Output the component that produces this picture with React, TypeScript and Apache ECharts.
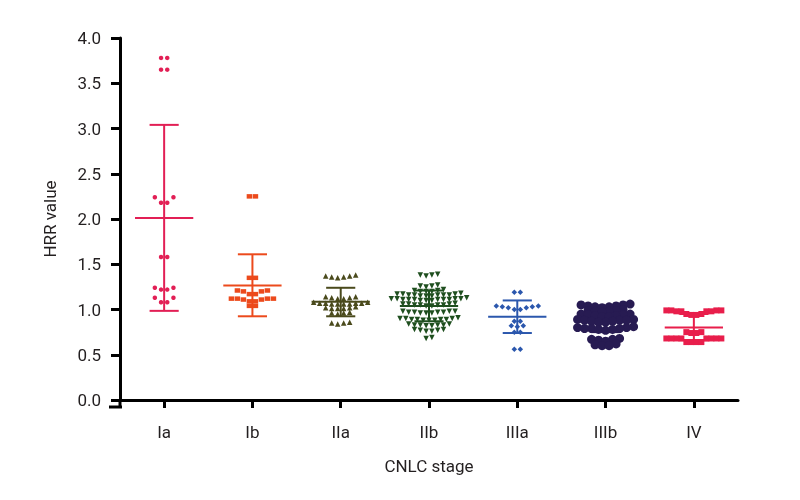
import React, { useEffect, useRef } from "react";
import * as echarts from "echarts";

const categories = ["Ia", "Ib", "IIa", "IIb", "IIIa", "IIIb", "IV"];

const valuesIa = [3.78, 3.78, 3.65, 3.65, 2.24, 2.24, 2.18, 2.18, 1.58, 1.58, 1.24, 1.24, 1.22, 1.22, 1.13, 1.13, 1.08, 1.08];
const valuesIb = [2.25, 2.25, 1.35, 1.35, 1.21, 1.21, 1.2, 1.2, 1.17, 1.17, 1.12, 1.12, 1.12, 1.12, 1.11, 1.11, 1.09, 1.09, 1.04, 1.04];
const valuesIIa = [1.38, 1.37, 1.37, 1.36, 1.36, 1.35, 1.14, 1.14, 1.13, 1.13, 1.12, 1.12, 1.08, 1.08, 1.07, 1.07, 1.07, 1.07, 1.06, 1.06, 1.06, 1.06, 1.03, 1.02, 1.02, 1.01, 1.01, 1.01, 0.97, 0.96, 0.96, 0.95, 0.86, 0.85, 0.85, 0.84];
const valuesIIb = [
  1.39, 1.38, 1.38, 1.37,
  1.27, 1.26, 1.26, 1.25,
  1.22, 1.21, 1.21, 1.2, 1.2, 1.2,
  1.18, 1.17, 1.17, 1.17, 1.16, 1.16, 1.16, 1.16, 1.16, 1.15, 1.15, 1.15,
  1.13, 1.12, 1.12, 1.12, 1.12, 1.11, 1.11, 1.11, 1.11, 1.11, 1.11, 1.1, 1.1, 1.1,
  1.07, 1.06, 1.06, 1.06, 1.05, 1.05, 1.05, 1.05, 1.04, 1.04,
  0.98, 0.98, 0.98, 0.97, 0.97, 0.97, 0.97, 0.96, 0.96, 0.96,
  0.91, 0.9, 0.9, 0.9, 0.89, 0.89, 0.89, 0.89, 0.88, 0.88, 0.88,
  0.84, 0.84, 0.83, 0.83, 0.83, 0.83, 0.82, 0.82,
  0.78, 0.78, 0.77, 0.77, 0.76, 0.76,
  0.69, 0.68,
];
const valuesIIIa = [1.19, 1.19, 1.04, 1.04, 1.03, 1.03, 1.02, 1.02, 1.0, 1.0, 0.87, 0.87, 0.82, 0.82, 0.81, 0.75, 0.75, 0.56, 0.56];
const valuesIIIb = [
  1.06, 1.05, 1.05, 1.04, 1.04, 1.03, 1.03, 1.02,
  1.0, 0.99, 0.99, 0.98, 0.98, 0.97,
  0.95, 0.95, 0.94, 0.94, 0.93, 0.93, 0.92, 0.92,
  0.89, 0.89, 0.88, 0.88, 0.88, 0.87, 0.87, 0.86, 0.86,
  0.81, 0.8, 0.8, 0.79, 0.79, 0.79, 0.78, 0.78, 0.77,
  0.68, 0.67, 0.67, 0.66, 0.65,
  0.62, 0.61, 0.6, 0.6,
];
const valuesIV = [0.99, 0.99, 0.99, 0.99, 0.98, 0.98, 0.98, 0.98, 0.95, 0.95, 0.94, 0.94, 0.75, 0.75, 0.74, 0.74, 0.68, 0.68, 0.68, 0.68, 0.68, 0.68, 0.68, 0.68, 0.64, 0.64, 0.64, 0.64];

const groupValues = [valuesIa, valuesIb, valuesIIa, valuesIIb, valuesIIIa, valuesIIIb, valuesIV];
const means = [2.01, 1.265, 1.085, 1.04, 0.92, 0.87, 0.8];
const upperBars = [3.04, 1.61, 1.24, 1.21, 1.1, 0.99, 0.95];
const lowerBars = [0.985, 0.925, 0.925, 0.87, 0.74, 0.75, 0.66];

const colors = ["#e21f55", "#ec4a1c", "#4a4a1c", "#1f4f1f", "#2b57ad", "#271b52", "#e81e4b"];
const symbols = ["circle", "rect", "triangle", "triangle", "diamond", "circle", "rect"];
const symbolRotates = [0, 0, 0, 180, 0, 0, 0];
const symbolSizes: any[] = [4.5, [5.5, 4.5], 5.5, 5.5, 5.5, 9, [6, 6]];
const rowThresholds = [0.07, 0.045, 0.045, 0.045, 0.045, 0.045, 0.06];
const slotSpacing = [6.2, 6, 6, 5.8, 6, 7, 5];

const FONT = "Roboto, 'Liberation Sans', sans-serif";
const TEXT_COLOR = "#231f20";

function beeswarm(values: number[], thr: number, spacing: number): number[] {
  const order = values.map((_, i) => i).sort((a, b) => values[a] - values[b]);
  const res = new Array(values.length).fill(0);
  let group: number[] = [];
  let start: number | null = null;
  const flush = () => {
    const n = group.length;
    group.forEach((id, k) => {
      let slot = 0;
      if (n % 2 === 0) {
        const m = Math.floor(k / 2);
        slot = (m + 0.5) * (k % 2 === 0 ? -1 : 1);
      } else if (k > 0) {
        const m = Math.ceil(k / 2);
        slot = m * (k % 2 === 1 ? -1 : 1);
      }
      res[id] = slot * spacing;
    });
    group = [];
  };
  for (const id of order) {
    const v = values[id];
    if (start === null || v - start > thr - 1e-9) {
      flush();
      start = v;
    }
    group.push(id);
  }
  flush();
  return res;
}

export default function App() {
  const ref = useRef<HTMLDivElement>(null);
  useEffect(() => {
    if (!ref.current) return;
    const chart = echarts.init(ref.current, undefined, { renderer: "svg" });

    const scatterSeries = groupValues.map((vals, i) => {
      const offs = beeswarm(vals, rowThresholds[i], slotSpacing[i]);
      return {
        type: "scatter",
        name: categories[i],
        symbol: symbols[i],
        symbolSize: symbolSizes[i],
        symbolRotate: symbolRotates[i],
        itemStyle: { color: colors[i], opacity: 1 },
        z: 3,
        data: vals.map((v, j) => ({ value: [i, v], symbolOffset: [offs[j], 0] })),
      };
    });

    const errorData = categories.map((_, i) => [i, means[i], upperBars[i], lowerBars[i]]);

    const errorSeries = {
      type: "custom",
      z: 2,
      encode: { x: 0, y: [1, 2, 3] },
      data: errorData,
      renderItem: (params: any, api: any) => {
        const i = api.value(0);
        const pMean = api.coord([i, api.value(1)]);
        const pUp = api.coord([i, api.value(2)]);
        const pLow = api.coord([i, api.value(3)]);
        const band = api.size([1, 0])[0];
        const meanHalf = band * 0.33;
        const capHalf = band * 0.165;
        const style = { stroke: colors[params.dataIndex], lineWidth: 2 };
        return {
          type: "group",
          children: [
            { type: "line", shape: { x1: pUp[0], y1: pUp[1], x2: pLow[0], y2: pLow[1] }, style },
            { type: "line", shape: { x1: pUp[0] - capHalf, y1: pUp[1], x2: pUp[0] + capHalf, y2: pUp[1] }, style },
            { type: "line", shape: { x1: pLow[0] - capHalf, y1: pLow[1], x2: pLow[0] + capHalf, y2: pLow[1] }, style },
            { type: "line", shape: { x1: pMean[0] - meanHalf, y1: pMean[1], x2: pMean[0] + meanHalf, y2: pMean[1] }, style },
          ],
        };
      },
    };

    chart.setOption({
      animation: false,
      grid: { left: 120, right: 62, top: 38, bottom: 100, containLabel: false },
      xAxis: {
        type: "category",
        data: categories,
        boundaryGap: true,
        offset: 7,
        axisLine: { show: true, lineStyle: { color: "#000", width: 3 } },
        axisTick: { show: true, alignWithLabel: true, length: 8, lineStyle: { color: "#000", width: 3 } },
        axisLabel: { margin: 16, fontSize: 17, color: TEXT_COLOR, fontFamily: FONT },
        splitLine: { show: false },
        name: "CNLC stage",
        nameLocation: "middle",
        nameGap: 50,
        nameTextStyle: { fontSize: 17, color: TEXT_COLOR, fontFamily: FONT },
      },
      yAxis: {
        type: "value",
        min: 0,
        max: 4,
        interval: 0.5,
        axisLine: { show: true, lineStyle: { color: "#000", width: 3 } },
        axisTick: { show: true, length: 9, lineStyle: { color: "#000", width: 3 } },
        axisLabel: { margin: 19, fontSize: 17, color: TEXT_COLOR, fontFamily: FONT, formatter: (v: number) => v.toFixed(1) },
        splitLine: { show: false },
        name: "HRR value",
        nameLocation: "middle",
        nameGap: 62,
        nameTextStyle: { fontSize: 17, color: TEXT_COLOR, fontFamily: FONT },
      },
      graphic: [
        { type: "line", shape: { x1: 120, y1: 399, x2: 120, y2: 408 }, style: { stroke: "#000", lineWidth: 3 } },
        { type: "line", shape: { x1: 109, y1: 407, x2: 122, y2: 407 }, style: { stroke: "#000", lineWidth: 3 } },
      ],
      series: [errorSeries, ...scatterSeries],
    });

    return () => chart.dispose();
  }, []);

  return <div ref={ref} style={{ position: "fixed", left: 0, top: 0, width: 800, height: 500 }} />;
}
